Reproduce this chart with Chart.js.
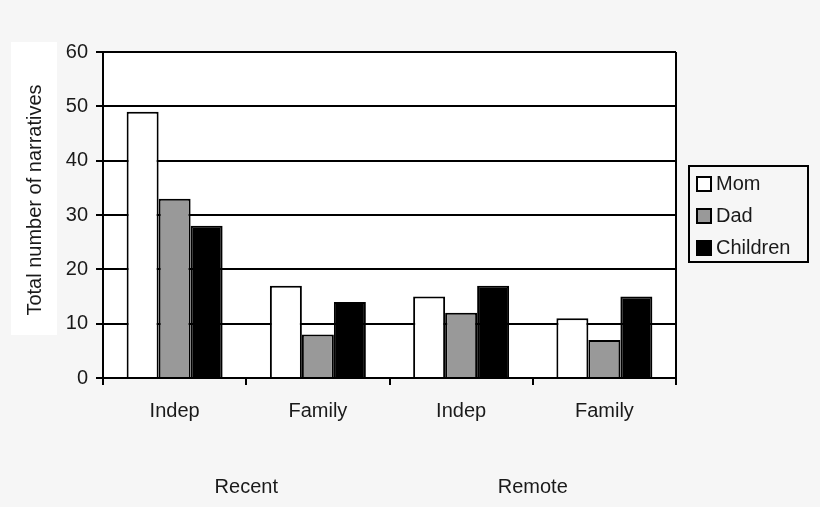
<!DOCTYPE html>
<html>
<head>
<meta charset="utf-8">
<script src="https://cdn.jsdelivr.net/npm/chart.js@4.4.1/dist/chart.umd.min.js"></script>
<style>
  html, body { margin: 0; padding: 0; background: #f6f6f6; }
  #wrap { width: 820px; height: 507px; }
</style>
</head>
<body>
<div id="wrap"><canvas id="chart"></canvas></div>
<script>
// ---------- data ----------
var categories = ['Indep', 'Family', 'Indep', 'Family'];
var groups = ['Recent', 'Remote'];
var seriesNames = ['Mom', 'Dad', 'Children'];
var mom = [49, 17, 15, 11];
var dad = [33, 8, 12, 7];
var children = [28, 14, 17, 15];
var yMin = 0, yMax = 60, yStep = 10;
var yTitle = 'Total number of narratives';

var FONT = "'Liberation Sans', Arial, sans-serif";
var INK = '#1a1a1a';

// white plot area, white box + rotated y title, boxed legend on the right
var decor = {
    id: 'decor',
    beforeDraw: function (chart) {
        var c = chart.ctx, a = chart.chartArea;
        c.save();
        c.fillStyle = '#ffffff';
        c.fillRect(a.left, a.top, a.right - a.left, a.bottom - a.top);
        c.fillRect(11, 42, 46, 293);
        c.restore();
    },
    afterDraw: function (chart) {
        var c = chart.ctx;
        c.save();
        // y title
        c.translate(35, 200);
        c.rotate(-Math.PI / 2);
        c.font = '20px ' + FONT;
        c.fillStyle = INK;
        c.textAlign = 'center';
        c.textBaseline = 'middle';
        c.fillText(yTitle, 0, 0);
        c.restore();

        // legend
        c.save();
        c.lineWidth = 2;
        c.strokeStyle = '#000';
        c.strokeRect(689, 166, 119, 96);
        c.font = '20px ' + FONT;
        c.textBaseline = 'middle';
        chart.data.datasets.forEach(function (ds, i) {
            var cy = 184 + i * 32;
            c.fillStyle = ds.backgroundColor;
            c.fillRect(697, cy - 7, 14, 14);
            c.strokeRect(697, cy - 7, 14, 14);
            c.fillStyle = INK;
            c.fillText(ds.label, 716, cy);
        });
        c.restore();
    }
};

var ctx = document.getElementById('chart');

var chartGraph = new Chart(ctx, {
    type: 'bar',
    data: {
        labels: categories,
        datasets: [{
            label: seriesNames[0],
            data: mom,
            backgroundColor: '#ffffff',
            borderColor: '#000000',
            borderWidth: 2
        },
        {
            label: seriesNames[1],
            data: dad,
            backgroundColor: '#999999',
            borderColor: '#000000',
            borderWidth: 2
        },
        {
            label: seriesNames[2],
            data: children,
            backgroundColor: '#000000',
            borderColor: '#000000',
            borderWidth: 2
        }]
    },
    options: {
        responsive: true,
        maintainAspectRatio: false,
        animation: false,
        categoryPercentage: 0.67,
        barPercentage: 1.0,
        layout: { padding: { top: 52, right: 144, left: 0, bottom: 0 } },
        plugins: {
            legend: { display: false },
            tooltip: { enabled: false }
        },
        scales: {
            x: {
                offset: true,
                grid: {
                    offset: true,
                    // only the closing line on the right is drawn inside the plot
                    color: function (c) { return c.type === 'scale' ? '#000' : 'rgba(0,0,0,0)'; },
                    tickColor: '#000',
                    tickLength: 7,
                    lineWidth: 2
                },
                border: { display: true, color: '#000', width: 2 },
                ticks: { color: INK, font: { family: FONT, size: 20 }, padding: 14 },
                afterFit: function (s) { s.height = 50; }
            },
            x2: {
                type: 'category',
                position: 'bottom',
                labels: groups,
                offset: true,
                grid: { display: false, drawTicks: false },
                border: { display: false },
                ticks: { color: INK, font: { family: FONT, size: 20 }, padding: 47 },
                afterFit: function (s) { s.height = 79; }
            },
            y: {
                min: yMin,
                max: yMax,
                ticks: {
                    stepSize: yStep,
                    color: INK,
                    font: { family: FONT, size: 20 },
                    padding: 8
                },
                grid: { color: '#000', lineWidth: 2, tickLength: 7 },
                border: { display: true, color: '#000', width: 2 },
                afterFit: function (s) { s.width = 103; }
            }
        }
    },
    plugins: [decor]
});
</script>
</body>
</html>
